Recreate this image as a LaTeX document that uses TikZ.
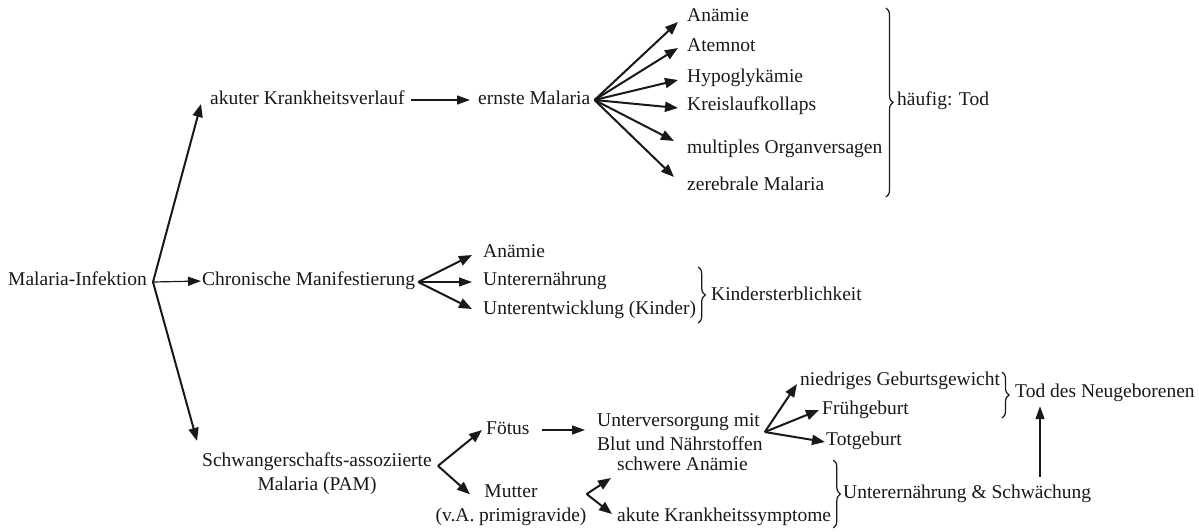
\documentclass[tikz,border=0pt]{standalone}
\usepackage{fontspec}
\setmainfont{Liberation Serif}
\newfontfamily\serf{Liberation Serif}
\usetikzlibrary{arrows.meta,calc,decorations.pathreplacing}
\definecolor{ink}{RGB}{25,25,25}
\begin{document}
\begin{tikzpicture}[x=1pt,y=-1pt,
  lbl/.style={inner sep=0pt, anchor=west, text height=13.5pt, text depth=4.5pt, font=\serf\fontsize{19.5}{24}\selectfont, text=ink},
  mlbl/.style={inner sep=0pt, font=\serf\fontsize{19.5}{24}\selectfont, text=ink},
  fan/.style={draw=ink, line width=2pt, -{Triangle[length=13pt,width=10pt]}},
  conn/.style={draw=ink, line width=1.2pt, -{Triangle[length=13pt,width=9pt]}},
  brc/.style={draw=ink, line width=1.2pt, decorate, decoration={brace, amplitude=7pt}}]
\fill[white] (0,0) rectangle (1199,531);
\useasboundingbox (0,0) rectangle (1199,531);

% nodes
\node[lbl] (mi) at (8,281) {Malaria-Infektion};
\node[lbl] (akut) at (210,100) {akuter Krankheitsverlauf};
\node[lbl] (ernste) at (478,100) {ernste Malaria};
\node[lbl] (t1) at (687,17) {Anämie};
\node[lbl] (t2) at (687,47) {Atemnot};
\node[lbl] (t3) at (687,78) {Hypoglykämie};
\node[lbl] (t4) at (687,106) {Kreislaufkollaps};
\node[lbl] (t5) at (687,149) {multiples Organversagen};
\node[lbl] (t6) at (687,186) {zerebrale Malaria};
\node[lbl] (tod1) at (897,101) {häufig: Tod};

\node[lbl] (chron) at (202,281) {Chronische Manifestierung};
\node[lbl] (m1) at (483,253) {Anämie};
\node[lbl] (m2) at (483,281) {Unterernährung};
\node[lbl] (m3) at (483,310) {Unterentwicklung (Kinder)};
\node[lbl] (ks) at (711,296) {Kindersterblichkeit};

\node[mlbl, align=center] (pam) at (317,474) {Schwangerschafts-assoziierte\\Malaria (PAM)};
\node[lbl] (foetus) at (486,430) {Fötus};
\node[mlbl, align=left, anchor=west] (unterv) at (597,432) {Unterversorgung mit\\Blut und Nährstoffen};
\node[lbl] (nied) at (800,381) {niedriges Geburtsgewicht};
\node[lbl] (frueh) at (822,410) {Frühgeburt};
\node[lbl] (tot) at (826,441) {Totgeburt};
\node[lbl] (tod2) at (1015,393) {Tod des Neugeborenen};
\node[mlbl, align=center] (mutter) at (511,505) {Mutter\\(v.A. primigravide)};
\node[lbl] (schw) at (617,466) {schwere Anämie};
\node[lbl] (akute) at (617,517) {akute Krankheitssymptome};
\node[lbl] (ue) at (843,494) {Unterernährung \& Schwächung};

% origins
\coordinate (o1) at ($(mi.east)+(6,1)$);
\coordinate (o2) at ($(ernste.east)+(4,0)$);
\coordinate (o3) at ($(chron.east)+(3,1)$);
\coordinate (o4) at ($(pam.north east)+(6,13)$);
\coordinate (o5) at ($(unterv.east)+(2,0)$);
\coordinate (o6) at ($(mutter.east)+(0,-11)$);
\coordinate (vx) at (1040,0);

% connectors
\draw[fan] (o1) -- ($(akut.west)+(-9,4)$);
\draw[conn] (o1) -- ($(chron.west)+(-1,0)$);
\draw[fan] (o1) -- ($(pam.north west)+(-5,-12)$);

\draw[conn] ($(akut.east)+(6,0)$) -- ($(ernste.west)+(-8,0)$);
\draw[fan] (o2) -- ($(t1.west)+(-9,5)$);
\draw[fan] (o2) -- ($(t2.west)+(-9,1)$);
\draw[fan] (o2) -- ($(t3.west)+(-9,2)$);
\draw[fan] (o2) -- ($(t4.west)+(-9,2)$);
\draw[fan] (o2) -- ($(t5.west)+(-13,-8)$);
\draw[fan] (o2) -- ($(t6.west)+(-13,-9)$);

\draw[fan] (o3) -- ($(m1.west)+(-11,2)$);
\draw[conn] (o3) -- ($(m2.west)+(-11,1)$);
\draw[fan] (o3) -- ($(m3.west)+(-11,-1)$);

\draw[fan] (o4) -- ($(foetus.west)+(-4,0)$);
\draw[fan] (o4) -- ($(mutter.north)+(-41,10)$);
\draw[conn] ($(foetus.east)+(12,0)$) -- ($(foetus.east -| unterv.west)+(-12,0)$);

\draw[fan] (o5) -- ($(nied.west)+(-3,3)$);
\draw[fan] (o5) -- ($(frueh.west)+(-3,0)$);
\draw[fan] (o5) -- ($(tot.west)+(-1,1)$);

\draw[fan] (o6) -- ($(schw.west)+(-6,12)$);
\draw[fan] (o6) -- ($(akute.west)+(-5,-3)$);

\draw[conn] (ue.north -| vx) ++(0,-8) -- ($(tod2.south -| vx)+(0,4)$);

% braces
\draw[brc] (886,8) -- (886,197);
\draw[brc] ($(m3.east)+(2,0)$) ++(0,-43) -- ++(0,56);
\draw[brc] (1002,372) -- (1002,418);
\draw[brc] ($(akute.east)+(2,0)$) ++(0,-57) -- ++(0,68);
\end{tikzpicture}
\end{document}
